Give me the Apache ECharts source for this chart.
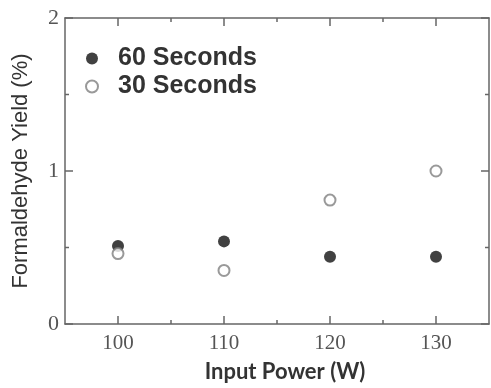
<!DOCTYPE html>
<html>
<head>
<meta charset="utf-8">
<script src="https://cdn.jsdelivr.net/npm/echarts@6/dist/echarts.min.js"></script>
<style>
  html, body { margin: 0; padding: 0; background: #fff; }
  #chart { width: 491px; height: 388px; }
</style>
</head>
<body>
<div id="chart"></div>
<script>
// data
const powers = [100, 110, 120, 130]
const yield60 = [0.51, 0.54, 0.44, 0.44]
const yield30 = [0.46, 0.35, 0.81, 1.0]
const xMajorTicks = [100, 110, 120, 130]
const xMinorTicks = [105, 115, 125]
const yMajorTicks = [0, 1, 2]
const yMinorTicks = [0.5, 1.5]

const X_MIN = 95
const X_MAX = 135
const Y_MIN = 0
const Y_MAX = 2

const AXIS_COLOR = '#666'
const LABEL_COLOR = '#555'

const chart = echarts.init(document.getElementById('chart'))

// frame line only
function lineAxis (base, position) {
  return Object.assign({}, base, {
    position: position,
    axisLine: { show: true, onZero: false, lineStyle: { color: AXIS_COLOR, width: 1.5 } },
    axisTick: { show: false },
    axisLabel: { show: false },
    splitLine: { show: false }
  })
}

const xBase = { type: 'value', min: X_MIN, max: X_MAX }
const yBase = { type: 'value', min: Y_MIN, max: Y_MAX }

// inside ticks on both sides of the frame, placed through the axis scales
const tickLine = (x1, y1, x2, y2) => ({
  type: 'line',
  shape: { x1, y1, x2, y2 },
  style: { stroke: AXIS_COLOR, lineWidth: 1.5 }
})

const xTickData = xMajorTicks.map(v => [v, Y_MIN, 8]).concat(xMinorTicks.map(v => [v, Y_MIN, 4]))
const yTickData = yMajorTicks.map(v => [X_MIN, v, 8]).concat(yMinorTicks.map(v => [X_MIN, v, 4]))

const options = {
  animation: false,
  backgroundColor: '#fff',
  grid: { left: 65, top: 18, right: 2, bottom: 64 },
  legend: {
    orient: 'vertical',
    left: 80,
    top: 41,
    itemWidth: 12,
    itemHeight: 12,
    itemGap: 3,
    textStyle: { fontFamily: 'Liberation Sans', fontWeight: 'bold', fontSize: 25, color: '#333', padding: [0, 0, 0, 15] },
    data: ['60 Seconds', '30 Seconds']
  },
  xAxis: [
    Object.assign(lineAxis(xBase, 'bottom'), {
      axisLabel: {
        show: true, customValues: xMajorTicks, margin: 9,
        fontFamily: 'Liberation Serif', fontSize: 21, color: LABEL_COLOR
      },
      name: 'Input Power (W)',
      nameLocation: 'middle',
      nameGap: 37,
      nameTextStyle: { fontFamily: 'Lato', fontWeight: 'bold', fontSize: 22, color: '#333', padding: [0, 0, 0, 16] }
    }),
    lineAxis(xBase, 'top')
  ],
  yAxis: [
    Object.assign(lineAxis(yBase, 'left'), {
      axisLabel: {
        show: true, customValues: yMajorTicks, margin: 6,
        fontFamily: 'Liberation Serif', fontSize: 22, color: LABEL_COLOR
      },
      name: 'Formaldehyde Yield (%)',
      nameLocation: 'middle',
      nameGap: 33,
      nameTextStyle: { fontFamily: 'Liberation Sans', fontSize: 22, color: '#333' }
    }),
    lineAxis(yBase, 'right')
  ],
  series: [
    {
      type: 'custom',
      silent: true,
      clip: false,
      z: 5,
      data: xTickData,
      renderItem: (params, api) => {
        const len = api.value(2)
        const b = api.coord([api.value(0), Y_MIN])
        const t = api.coord([api.value(0), Y_MAX])
        return {
          type: 'group',
          children: [tickLine(b[0], b[1], b[0], b[1] - len), tickLine(t[0], t[1], t[0], t[1] + len)]
        }
      }
    },
    {
      type: 'custom',
      silent: true,
      clip: false,
      z: 5,
      data: yTickData,
      renderItem: (params, api) => {
        const len = api.value(2)
        const l = api.coord([X_MIN, api.value(1)])
        const r = api.coord([X_MAX, api.value(1)])
        return {
          type: 'group',
          children: [tickLine(l[0], l[1], l[0] + len, l[1]), tickLine(r[0], r[1], r[0] - len, r[1])]
        }
      }
    },
    {
      name: '60 Seconds',
      type: 'scatter',
      symbol: 'circle',
      symbolSize: 12,
      z: 10,
      itemStyle: { color: '#111' },
      data: powers.map((p, i) => [p, yield60[i]])
    },
    {
      name: '30 Seconds',
      type: 'scatter',
      symbol: 'circle',
      symbolSize: 11,
      z: 10,
      itemStyle: { color: '#fff', borderColor: '#808080', borderWidth: 2 },
      data: powers.map((p, i) => [p, yield30[i]])
    }
  ]
}

chart.setOption(options)
</script>
</body>
</html>
